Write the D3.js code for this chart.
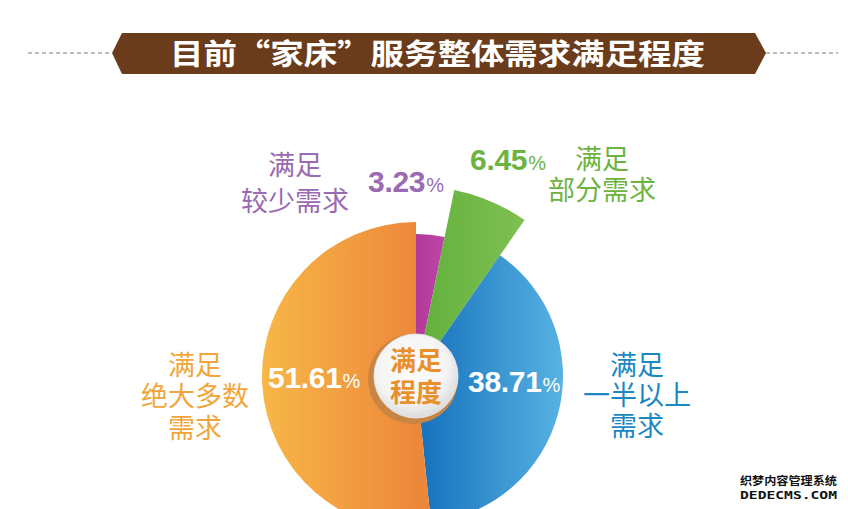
<!DOCTYPE html>
<html><head><meta charset="utf-8">
<script src="https://cdn.jsdelivr.net/npm/d3@7"></script>
<style>html,body{margin:0;padding:0;background:#fff;}svg{display:block;}</style>
</head><body>
<svg id="chart" width="848" height="509"></svg>
<script>
// ---- data ----
const title = "目前“家床”服务整体需求满足程度";
const categories = ["满足较少需求", "满足部分需求", "满足一半以上需求", "满足绝大多数需求"];
const values = [3.23, 6.45, 38.71, 51.61];
const labelLines = [["满足", "较少需求"], ["满足", "部分需求"], ["满足", "一半以上", "需求"], ["满足", "绝大多数", "需求"]];
const centerLines = ["满足", "程度"];
const watermark = ["织梦内容管理系统", "DEDECMS.COM"];

// ---- styles / layout ----
const W = 848, H = 509;
const cx = 416, cy = 376;
const cjk = "'Liberation Sans', 'Noto Sans CJK SC', sans-serif";
const style = {
  "满足较少需求":   {r: 142, c0: "#b3399a", c1: "#c655b4", gx: [0, 60], text: "#9a6ab2",
                   lab: {x: 295, y: 165, dy: 36}, num: {x: 368, y: 192}},
  "满足部分需求":   {r: 190, c0: "#62b03c", c1: "#7fc052", gx: [0, 110], text: "#6db33f",
                   lab: {x: 602, y: 159, dy: 31}, num: {x: 470, y: 170}},
  "满足一半以上需求": {r: 147, c0: "#1470bb", c1: "#58b2e3", gx: [0, 147], text: "#1c88c2",
                   lab: {x: 637, y: 365, dy: 30.5}, num: {x: 468, y: 392}},
  "满足绝大多数需求": {r: 154, c0: "#f7b747", c1: "#ed883b", gx: [-154, 0], text: "#f0a63a",
                   lab: {x: 195, y: 365, dy: 31.5}, num: {x: 268, y: 388}}
};

const svg = d3.select("#chart");
const defs = svg.append("defs");

// gradients per slice (coordinates relative to the pie centre)
categories.forEach((c, i) => {
  const s = style[c];
  const g = defs.append("linearGradient").attr("id", "g" + i)
    .attr("gradientUnits", "userSpaceOnUse")
    .attr("x1", s.gx[0]).attr("y1", 0).attr("x2", s.gx[1]).attr("y2", 0);
  g.append("stop").attr("offset", "0%").attr("stop-color", s.c0);
  g.append("stop").attr("offset", "100%").attr("stop-color", s.c1);
});
const rg = defs.append("radialGradient").attr("id", "cg").attr("cx", "45%").attr("cy", "40%").attr("r", "60%");
rg.append("stop").attr("offset", "0%").attr("stop-color", "#ffffff");
rg.append("stop").attr("offset", "70%").attr("stop-color", "#f4f4f4");
rg.append("stop").attr("offset", "100%").attr("stop-color", "#dcdcdc");

// ---- title banner ----
const bY = 53, bTop = 33, bBot = 74;
svg.append("line").attr("x1", 28).attr("x2", 112).attr("y1", bY).attr("y2", bY)
  .attr("stroke", "#8a7a6a").attr("stroke-width", 1).attr("stroke-dasharray", "4,3");
svg.append("line").attr("x1", 766).attr("x2", 838).attr("y1", bY).attr("y2", bY)
  .attr("stroke", "#8a7a6a").attr("stroke-width", 1).attr("stroke-dasharray", "4,3");
svg.append("path")
  .attr("d", d3.line()([[112, bY], [122, bTop], [755, bTop], [766, bY], [755, bBot], [122, bBot]]) + "Z")
  .attr("fill", "#6b3c1b");
svg.append("text").attr("x", 170).attr("y", 65)
  .attr("textLength", 535).attr("lengthAdjust", "spacingAndGlyphs")
  .attr("font-family", "'Noto Sans CJK SC', sans-serif").attr("font-weight", 700)
  .attr("font-size", 29).attr("fill", "#ffffff").text(title);

// ---- pie ----
const pie = d3.pie().sort(null).value(d => d.v).startAngle(0).endAngle(2 * Math.PI);
const arcs = pie(categories.map((c, i) => ({c, v: values[i], i})));
const gPie = svg.append("g").attr("transform", `translate(${cx},${cy})`);
gPie.selectAll("path.slice").data(arcs).join("path").attr("class", "slice")
  .attr("d", d => d3.arc().innerRadius(0).outerRadius(style[d.data.c].r)(d))
  .attr("fill", d => `url(#g${d.data.i})`);

// center circle
gPie.append("circle").attr("cx", -3).attr("cy", 3).attr("r", 45).attr("fill", "#c98543");
gPie.append("circle").attr("cx", 0).attr("cy", 0).attr("r", 42).attr("fill", "url(#cg)")
  .attr("stroke", "#e6e6e6").attr("stroke-width", 1);
const ct = gPie.append("text").attr("text-anchor", "middle")
  .attr("font-family", cjk).attr("font-weight", 700)
  .attr("font-size", 26).attr("fill", "#e8902c");
ct.selectAll("tspan").data(centerLines).join("tspan")
  .attr("x", 0).attr("y", (d, i) => -15 + i * 32 + 9).text(d => d);

// ---- category labels (one text block per category) ----
categories.forEach((c, i) => {
  const s = style[c];
  const t = svg.append("text").attr("text-anchor", "middle")
    .attr("font-family", cjk).attr("font-weight", 400)
    .attr("font-size", 27).attr("fill", s.text);
  t.selectAll("tspan").data(labelLines[i]).join("tspan")
    .attr("x", s.lab.x).attr("y", (d, j) => s.lab.y + j * s.lab.dy + 9.5).text(d => d);
});

// ---- value labels ----
categories.forEach((c, i) => {
  const s = style[c];
  const inside = (c === "满足一半以上需求" || c === "满足绝大多数需求");
  const col = inside ? "#ffffff" : s.text;
  const t = svg.append("text").attr("x", s.num.x).attr("y", s.num.y)
    .attr("font-family", "'Liberation Sans', Arial, sans-serif").attr("fill", col);
  t.append("tspan").attr("font-weight", 700).attr("font-size", 30).attr("letter-spacing", -0.3)
    .text(values[i].toFixed(2));
  t.append("tspan").attr("font-weight", 400).attr("font-size", 20).attr("dx", 1).text("%");
});

// ---- watermark ----
const wm = svg.append("text").attr("fill", "#111").attr("stroke", "#fff").attr("stroke-width", 2)
  .attr("paint-order", "stroke").attr("font-weight", 700);
wm.append("tspan").attr("x", 740).attr("y", 485).attr("textLength", 97).attr("lengthAdjust", "spacingAndGlyphs")
  .attr("font-family", "'Liberation Sans', 'Noto Sans CJK SC', sans-serif").attr("font-size", 11).text(watermark[0]);
wm.append("tspan").attr("x", 740).attr("y", 499).attr("textLength", 97).attr("lengthAdjust", "spacingAndGlyphs")
  .attr("font-family", "'DejaVu Sans Mono', monospace").attr("font-size", 10).text(watermark[1]);
</script>
</body></html>
